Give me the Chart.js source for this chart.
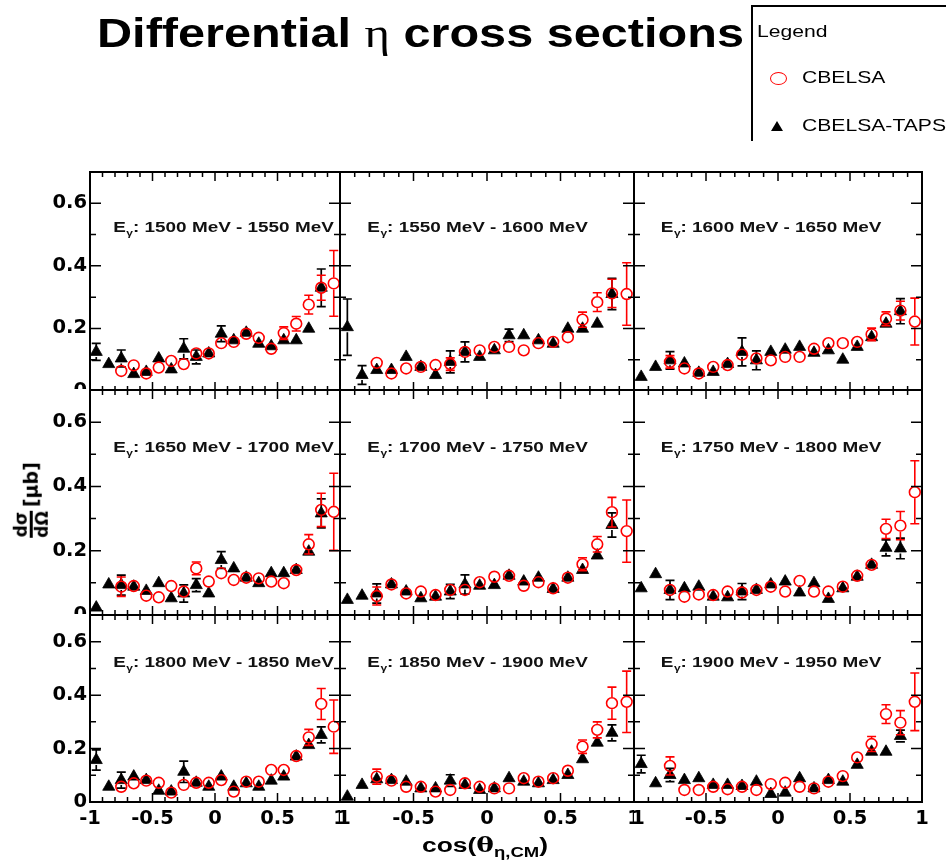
<!DOCTYPE html>
<html><head><meta charset="utf-8">
<script src="https://cdn.jsdelivr.net/npm/chart.js@4.4.1/dist/chart.umd.min.js"></script>
<style>
html,body{margin:0;padding:0;background:#fff;width:946px;height:862px;overflow:hidden;}
#wrap{position:relative;width:946px;height:862px;overflow:hidden;}
#charts canvas{position:absolute;left:0;top:0;}
.txt{position:absolute;white-space:nowrap;transform-origin:0 50%;font-family:"Liberation Sans",Arial,sans-serif;color:#000;}
</style></head><body><div id="wrap">
<div id="charts"></div>
<div id="title" class="txt" style="left:97px;top:13px;font-size:41px;font-weight:bold;line-height:41px;">Differential <span style="font-family:'Liberation Serif','DejaVu Serif',serif;font-weight:normal;">η</span> cross sections</div>
<div style="position:absolute;left:751px;top:5px;width:240px;height:134px;border-left:2px solid #000;border-top:2px solid #000;"></div>
<div id="lg0" class="txt" style="left:757px;top:21px;font-size:16.5px;line-height:20px;">Legend</div>
<div style="position:absolute;left:770px;top:72px;width:17px;height:13px;border:1.7px solid #ff0000;border-radius:50%;box-sizing:border-box;"></div>
<div id="lg1" class="txt" style="left:802px;top:67px;font-size:16.5px;line-height:20px;">CBELSA</div>
<div style="position:absolute;left:771px;top:121px;width:0;height:0;border-left:6.5px solid transparent;border-right:6.5px solid transparent;border-bottom:10px solid #000;"></div>
<div id="lg2" class="txt" style="left:802px;top:115px;font-size:16.5px;line-height:20px;">CBELSA-TAPS</div>
<div id="yt" style="position:absolute;left:31px;top:500px;transform:translate(-50%,-50%) rotate(-90deg);font-family:'DejaVu Sans',sans-serif;font-weight:bold;white-space:nowrap;display:flex;align-items:center;color:#000;">
  <div style="display:inline-flex;flex-direction:column;align-items:center;font-size:17px;line-height:16px;"><span>dσ</span><span style="display:block;width:100%;height:2.5px;background:#000;margin:1px 0;"></span><span>dΩ</span></div>
  <span style="font-size:19px;margin-left:4px;">[μb]</span>
</div>
<div id="xt" class="txt" style="left:422px;top:833px;font-size:20px;font-weight:bold;line-height:24px;">cos(<span style="font-family:'DejaVu Serif',serif;">θ</span><sub style="font-size:14px;">η,CM</sub>)</div>
</div>
<script>
// ---------------- data ----------------
const COS_TAPS = [-0.95,-0.85,-0.75,-0.65,-0.55,-0.45,-0.35,-0.25,-0.15,-0.05,0.05,0.15,0.25,0.35,0.45,0.55,0.65,0.75,0.85];
const COS_CBELSA = [-0.75,-0.65,-0.55,-0.45,-0.35,-0.25,-0.15,-0.05,0.05,0.15,0.25,0.35,0.45,0.55,0.65,0.75,0.85,0.95];
const ENERGY_BINS = ['1500 MeV - 1550 MeV','1550 MeV - 1600 MeV','1600 MeV - 1650 MeV','1650 MeV - 1700 MeV','1700 MeV - 1750 MeV','1750 MeV - 1800 MeV','1800 MeV - 1850 MeV','1850 MeV - 1900 MeV','1900 MeV - 1950 MeV'];
const X_TICKS = [-1,-0.5,0,0.5,1];
const X_TICK_LABELS = ['-1','-0.5','0','0.5','1'];
const Y_TICKS = [0,0.2,0.4,0.6];
const Y_TICK_LABELS = ['0','0.2','0.4','0.6'];

const taps1500 = [0.125,0.086,0.104,0.054,0.061,0.104,0.069,0.135,0.109,0.12,0.183,0.162,0.186,0.151,0.143,0.162,0.162,0.199,0.33];
const tapsErr1500 = [0.027,0.015,0.027,0.015,0.015,0.015,0.015,0.032,0.022,0.015,0.025,0.015,0.015,0.015,0.015,0.015,0.015,0.015,0.06];
const cbelsa1500 = [0.064,0.082,0.056,0.075,0.096,0.086,0.12,0.12,0.153,0.157,0.183,0.17,0.135,0.185,0.215,0.276,0.33,0.344];
const cbelsaErr1500 = [0.012,0.012,0.012,0.012,0.012,0.012,0.012,0.012,0.012,0.012,0.012,0.012,0.012,0.02,0.023,0.03,0.04,0.105];

const taps1550 = [0.204,0.051,0.067,0.067,0.109,0.077,0.051,0.093,0.125,0.109,0.13,0.178,0.178,0.162,0.151,0.199,0.199,0.215,0.31];
const tapsErr1550 = [0.09,0.03,0.015,0.015,0.015,0.015,0.015,0.035,0.032,0.015,0.015,0.02,0.015,0.015,0.015,0.015,0.015,0.015,0.05];
const cbelsa1550 = [0.09,0.056,0.072,0.077,0.083,0.086,0.125,0.13,0.141,0.141,0.13,0.153,0.157,0.172,0.228,0.284,0.312,0.31];
const cbelsaErr1550 = [0.015,0.012,0.012,0.012,0.012,0.02,0.012,0.015,0.012,0.012,0.012,0.012,0.012,0.015,0.024,0.03,0.045,0.1];

const taps1600 = [0.045,0.077,0.098,0.088,0.058,0.061,0.086,0.125,0.098,0.125,0.132,0.141,0.122,0.13,0.10,0.141,0.172,0.215,0.255];
const tapsErr1600 = [0.012,0.012,0.028,0.015,0.012,0.012,0.015,0.045,0.03,0.015,0.015,0.015,0.015,0.015,0.015,0.015,0.015,0.015,0.04];
const cbelsa1600 = [0.093,0.072,0.056,0.077,0.083,0.116,0.104,0.098,0.109,0.109,0.135,0.153,0.153,0.157,0.181,0.231,0.257,0.222];
const cbelsaErr1600 = [0.02,0.012,0.012,0.012,0.012,0.012,0.012,0.012,0.012,0.012,0.012,0.012,0.012,0.015,0.02,0.022,0.03,0.075];

const taps1650 = [0.023,0.095,0.093,0.088,0.075,0.099,0.052,0.067,0.093,0.067,0.171,0.145,0.116,0.099,0.13,0.13,0.14,0.197,0.316];
const tapsErr1650 = [0.012,0.015,0.031,0.015,0.015,0.015,0.015,0.027,0.02,0.015,0.026,0.015,0.015,0.015,0.015,0.015,0.015,0.012,0.045];
const cbelsa1650 = [0.088,0.09,0.06,0.055,0.09,0.073,0.145,0.104,0.13,0.109,0.116,0.114,0.104,0.099,0.14,0.22,0.327,0.321];
const cbelsaErr1650 = [0.03,0.015,0.012,0.012,0.012,0.015,0.02,0.012,0.012,0.012,0.015,0.015,0.015,0.012,0.018,0.03,0.052,0.12];

const taps1700 = [0.047,0.06,0.067,0.095,0.073,0.052,0.057,0.073,0.095,0.091,0.093,0.122,0.104,0.116,0.081,0.116,0.14,0.185,0.28];
const tapsErr1700 = [0.012,0.012,0.03,0.015,0.012,0.012,0.012,0.022,0.03,0.015,0.015,0.015,0.015,0.015,0.012,0.015,0.015,0.015,0.038];
const cbelsa1700 = [0.059,0.095,0.067,0.073,0.062,0.078,0.078,0.102,0.119,0.122,0.091,0.102,0.083,0.116,0.158,0.22,0.32,0.261];
const cbelsaErr1700 = [0.028,0.018,0.012,0.012,0.012,0.012,0.012,0.012,0.012,0.012,0.012,0.012,0.012,0.015,0.02,0.024,0.046,0.097];

const taps1750 = [0.083,0.127,0.078,0.083,0.088,0.057,0.055,0.073,0.078,0.095,0.104,0.07,0.099,0.05,0.083,0.119,0.156,0.209,0.207];
const tapsErr1750 = [0.015,0.012,0.03,0.015,0.015,0.012,0.012,0.025,0.015,0.015,0.015,0.015,0.015,0.012,0.015,0.015,0.015,0.025,0.032];
const cbelsa1750 = [0.078,0.057,0.064,0.062,0.073,0.07,0.078,0.088,0.073,0.106,0.073,0.073,0.088,0.122,0.156,0.268,0.278,0.382];
const cbelsaErr1750 = [0.012,0.012,0.012,0.012,0.012,0.012,0.012,0.012,0.012,0.012,0.012,0.012,0.012,0.015,0.018,0.03,0.044,0.098];

const taps1800 = [0.157,0.057,0.082,0.095,0.082,0.042,0.039,0.113,0.072,0.057,0.095,0.057,0.07,0.057,0.08,0.095,0.17,0.213,0.251];
const tapsErr1800 = [0.038,0.012,0.03,0.015,0.015,0.012,0.012,0.04,0.012,0.012,0.015,0.012,0.012,0.012,0.012,0.015,0.015,0.015,0.03];
const cbelsa1800 = [0.057,0.07,0.08,0.072,0.035,0.064,0.072,0.072,0.082,0.039,0.076,0.076,0.12,0.12,0.172,0.242,0.367,0.282];
const cbelsaErr1800 = [0.012,0.012,0.012,0.012,0.012,0.012,0.012,0.012,0.012,0.012,0.012,0.012,0.012,0.015,0.02,0.03,0.058,0.1];

const taps1850 = [0.02,0.064,0.085,0.082,0.076,0.051,0.051,0.08,0.064,0.045,0.051,0.089,0.076,0.07,0.082,0.101,0.16,0.222,0.259];
const tapsErr1850 = [0.012,0.012,0.015,0.015,0.015,0.012,0.012,0.022,0.015,0.012,0.012,0.015,0.012,0.012,0.012,0.012,0.015,0.015,0.03];
const cbelsa1850 = [0.095,0.08,0.057,0.057,0.039,0.045,0.07,0.057,0.051,0.051,0.089,0.076,0.089,0.117,0.207,0.27,0.37,0.375];
const cbelsaErr1850 = [0.028,0.012,0.012,0.012,0.012,0.012,0.012,0.012,0.012,0.012,0.012,0.012,0.012,0.015,0.025,0.03,0.06,0.115];

const taps1900 = [0.142,0.07,0.101,0.082,0.089,0.064,0.064,0.06,0.076,0.03,0.035,0.089,0.051,0.082,0.076,0.139,0.188,0.188,0.247];
const tapsErr1900 = [0.033,0.012,0.025,0.012,0.012,0.012,0.012,0.012,0.012,0.012,0.012,0.012,0.012,0.012,0.012,0.015,0.015,0.015,0.022];
const cbelsa1900 = [0.135,0.045,0.045,0.057,0.048,0.057,0.045,0.067,0.072,0.057,0.051,0.076,0.097,0.167,0.217,0.329,0.297,0.375];
const cbelsaErr1900 = [0.034,0.012,0.012,0.012,0.012,0.012,0.012,0.012,0.012,0.012,0.012,0.012,0.012,0.018,0.028,0.035,0.045,0.108];

const TAPS = [taps1500,taps1550,taps1600,taps1650,taps1700,taps1750,taps1800,taps1850,taps1900];
const TAPS_ERR = [tapsErr1500,tapsErr1550,tapsErr1600,tapsErr1650,tapsErr1700,tapsErr1750,tapsErr1800,tapsErr1850,tapsErr1900];
const CBELSA = [cbelsa1500,cbelsa1550,cbelsa1600,cbelsa1650,cbelsa1700,cbelsa1750,cbelsa1800,cbelsa1850,cbelsa1900];
const CBELSA_ERR = [cbelsaErr1500,cbelsaErr1550,cbelsaErr1600,cbelsaErr1650,cbelsaErr1700,cbelsaErr1750,cbelsaErr1800,cbelsaErr1850,cbelsaErr1900];

// ---------------- layout ----------------
const W = 946, H = 862;
const COL_X = [[90,340],[340,634],[634,922]];
const ROW_Y = [[172,391],[390,615],[615,802]];
const COL_CLIP = [[0,340],[340,634],[634,946]];
const ROW_CLIP = [[0,389],[389,614],[614,862]];
const Y_AXIS_W = 70, X_AXIS_H = 40;
const LABEL_POS = [-0.815, 0.525];
const LABEL_WIDTH = 220;
const LABEL_CLIP_RIGHT = [0,0,0,0,0,0,336,0,0];
const MAJ = 9, MIN = 5, CAP = 4.5;
const TICK_FONT = {family:'"DejaVu Sans", sans-serif', size:19.5, weight:'bold'};

const errorBars = {
  id:'errorBars',
  beforeDatasetDraw(chart, args){
    const ds = chart.data.datasets[args.index];
    const ys = chart.scales.y, ctx = chart.ctx;
    ctx.save();
    ctx.strokeStyle = ds.errColor; ctx.lineWidth = ds.errWidth;
    ctx.beginPath();
    args.meta.data.forEach((pt, k) => {
      const d = ds.data[k];
      const top = ys.getPixelForValue(d.y + d.e), bot = ys.getPixelForValue(d.y - d.e);
      const g = ds.errGap, cx = pt.x, cy = pt.y;
      if (cy - top > g){ ctx.moveTo(cx, cy - g); ctx.lineTo(cx, top); ctx.moveTo(cx - CAP, top); ctx.lineTo(cx + CAP, top); }
      if (bot - cy > g){ ctx.moveTo(cx, cy + g); ctx.lineTo(cx, bot); ctx.moveTo(cx - CAP, bot); ctx.lineTo(cx + CAP, bot); }
    });
    ctx.stroke();
    ctx.restore();
  }
};

function drawFrame(chart){
  const {ctx, chartArea:a} = chart, xs = chart.scales.x, ys = chart.scales.y;
  ctx.save();
  ctx.strokeStyle = '#000'; ctx.lineWidth = 1.5;
  ctx.beginPath();
  for (let k = -10; k <= 10; k++){
    const px = xs.getPixelForValue(k/10), len = (k % 5 === 0) ? MAJ : MIN;
    ctx.moveTo(px, a.bottom); ctx.lineTo(px, a.bottom - len);
    ctx.moveTo(px, a.top); ctx.lineTo(px, a.top + len);
  }
  for (let k = 0; k <= 7; k++){
    const py = ys.getPixelForValue(k/10), len = (k % 2 === 0) ? MAJ + 2 : MIN + 1;
    ctx.moveTo(a.left, py); ctx.lineTo(a.left + len, py);
    ctx.moveTo(a.right, py); ctx.lineTo(a.right - len, py);
  }
  ctx.stroke();
  ctx.lineWidth = 2;
  ctx.strokeRect(a.left, a.top, a.right - a.left, a.bottom - a.top);
  ctx.restore();
}

function drawLabel(chart, i){
  const ctx = chart.ctx;
  const px = chart.scales.x.getPixelForValue(LABEL_POS[0]);
  const py = chart.scales.y.getPixelForValue(LABEL_POS[1]);
  ctx.save();
  if (LABEL_CLIP_RIGHT[i]) { ctx.beginPath(); ctx.rect(0, 0, LABEL_CLIP_RIGHT[i], H); ctx.clip(); }
  const big = 'bold 15px "Liberation Sans", Arial, sans-serif';
  const small = 'bold 9.5px "Liberation Sans", Arial, sans-serif';
  const rest = ': ' + ENERGY_BINS[i];
  ctx.font = big; const wE = ctx.measureText('E').width, wR = ctx.measureText(rest).width;
  ctx.font = small; const wG = ctx.measureText('γ').width;
  const sx = LABEL_WIDTH / (wE + wG + wR);
  ctx.translate(px, py + 5.5); ctx.scale(sx, 1);
  ctx.fillStyle = '#111'; ctx.textAlign = 'left'; ctx.textBaseline = 'alphabetic';
  ctx.font = big; ctx.fillText('E', 0, 0);
  ctx.font = small; ctx.fillText('γ', wE + 0.5, 4);
  ctx.font = big; ctx.fillText(rest, wE + wG + 0.5, 0);
  ctx.restore();
}

function makePanel(i){
  const r = Math.floor(i/3), c = i % 3;
  const [x0, x1] = COL_X[c], [y0, y1] = ROW_Y[r];
  const clip = {x0: COL_CLIP[c][0], x1: COL_CLIP[c][1], y0: ROW_CLIP[r][0], y1: ROW_CLIP[r][1]};
  const cv = document.createElement('canvas');
  cv.width = W; cv.height = H;
  document.getElementById('charts').appendChild(cv);
  const padPlugin = {
    id:'pad'+i,
    beforeDraw(chart){ const ctx = chart.ctx; ctx.save(); ctx.beginPath(); ctx.rect(clip.x0, clip.y0, clip.x1 - clip.x0, clip.y1 - clip.y0); ctx.clip(); },
    afterDraw(chart){ drawFrame(chart); drawLabel(chart, i); chart.ctx.restore(); }
  };
  new Chart(cv, {
    type:'scatter',
    data:{ datasets:[
      { label:'CBELSA', data: COS_CBELSA.map((x,k)=>({x:x, y:CBELSA[i][k], e:CBELSA_ERR[i][k]})),
        pointStyle:'circle', pointRadius:5.4, pointBorderWidth:1.6, borderColor:'#ff0000', backgroundColor:'rgba(0,0,0,0)',
        showLine:false, clip:false, errColor:'#ff0000', errWidth:1.6, errGap:6 },
      { label:'CBELSA-TAPS', data: COS_TAPS.map((x,k)=>({x:x, y:TAPS[i][k], e:TAPS_ERR[i][k]})),
        pointStyle:'triangle', pointRadius:7, pointBorderWidth:0.8, borderColor:'#000', backgroundColor:'#000',
        showLine:false, clip:false, errColor:'#000', errWidth:1.7, errGap:5 }
    ]},
    options:{
      responsive:false, animation:false, events:[],
      layout:{autoPadding:false, padding:{left:x0 - Y_AXIS_W, right:W - x1, top:y0, bottom:H - y1 - X_AXIS_H}},
      plugins:{legend:{display:false}, tooltip:{enabled:false}, title:{display:false}},
      scales:{
        x:{ type:'linear', position:'bottom', min:-1, max:1,
            grid:{display:false, drawTicks:false}, border:{display:false},
            ticks:{display: r === 2, font:TICK_FONT, color:'#000', padding:5, maxRotation:0, minRotation:0, autoSkip:false,
                   callback:(v, idx) => X_TICK_LABELS[idx]},
            afterBuildTicks:(s)=>{ s.ticks = X_TICKS.map(v=>({value:v})); },
            afterFit:(s)=>{ s.height = X_AXIS_H; } },
        y:{ type:'linear', position:'left', min:0, max:0.7,
            grid:{display:false, drawTicks:false}, border:{display:false},
            ticks:{display: c === 0, font:TICK_FONT, color:'#000', padding:3, autoSkip:false,
                   callback:(v, idx) => Y_TICK_LABELS[idx]},
            afterBuildTicks:(s)=>{ s.ticks = Y_TICKS.map(v=>({value:v})); },
            afterFit:(s)=>{ s.width = Y_AXIS_W; } }
      }
    },
    plugins:[padPlugin, errorBars]
  });
}

for (let i = 0; i < 9; i++) makePanel(i);

function fitX(id, w){
  const el = document.getElementById(id);
  const nat = el.getBoundingClientRect().width;
  el.style.transform = 'scaleX(' + (w / nat) + ')';
}
fitX('title', 647);
fitX('xt', 126);
['lg0','lg1','lg2'].forEach(id => { document.getElementById(id).style.transform = 'scaleX(1.28)'; });
</script>
</body></html>
